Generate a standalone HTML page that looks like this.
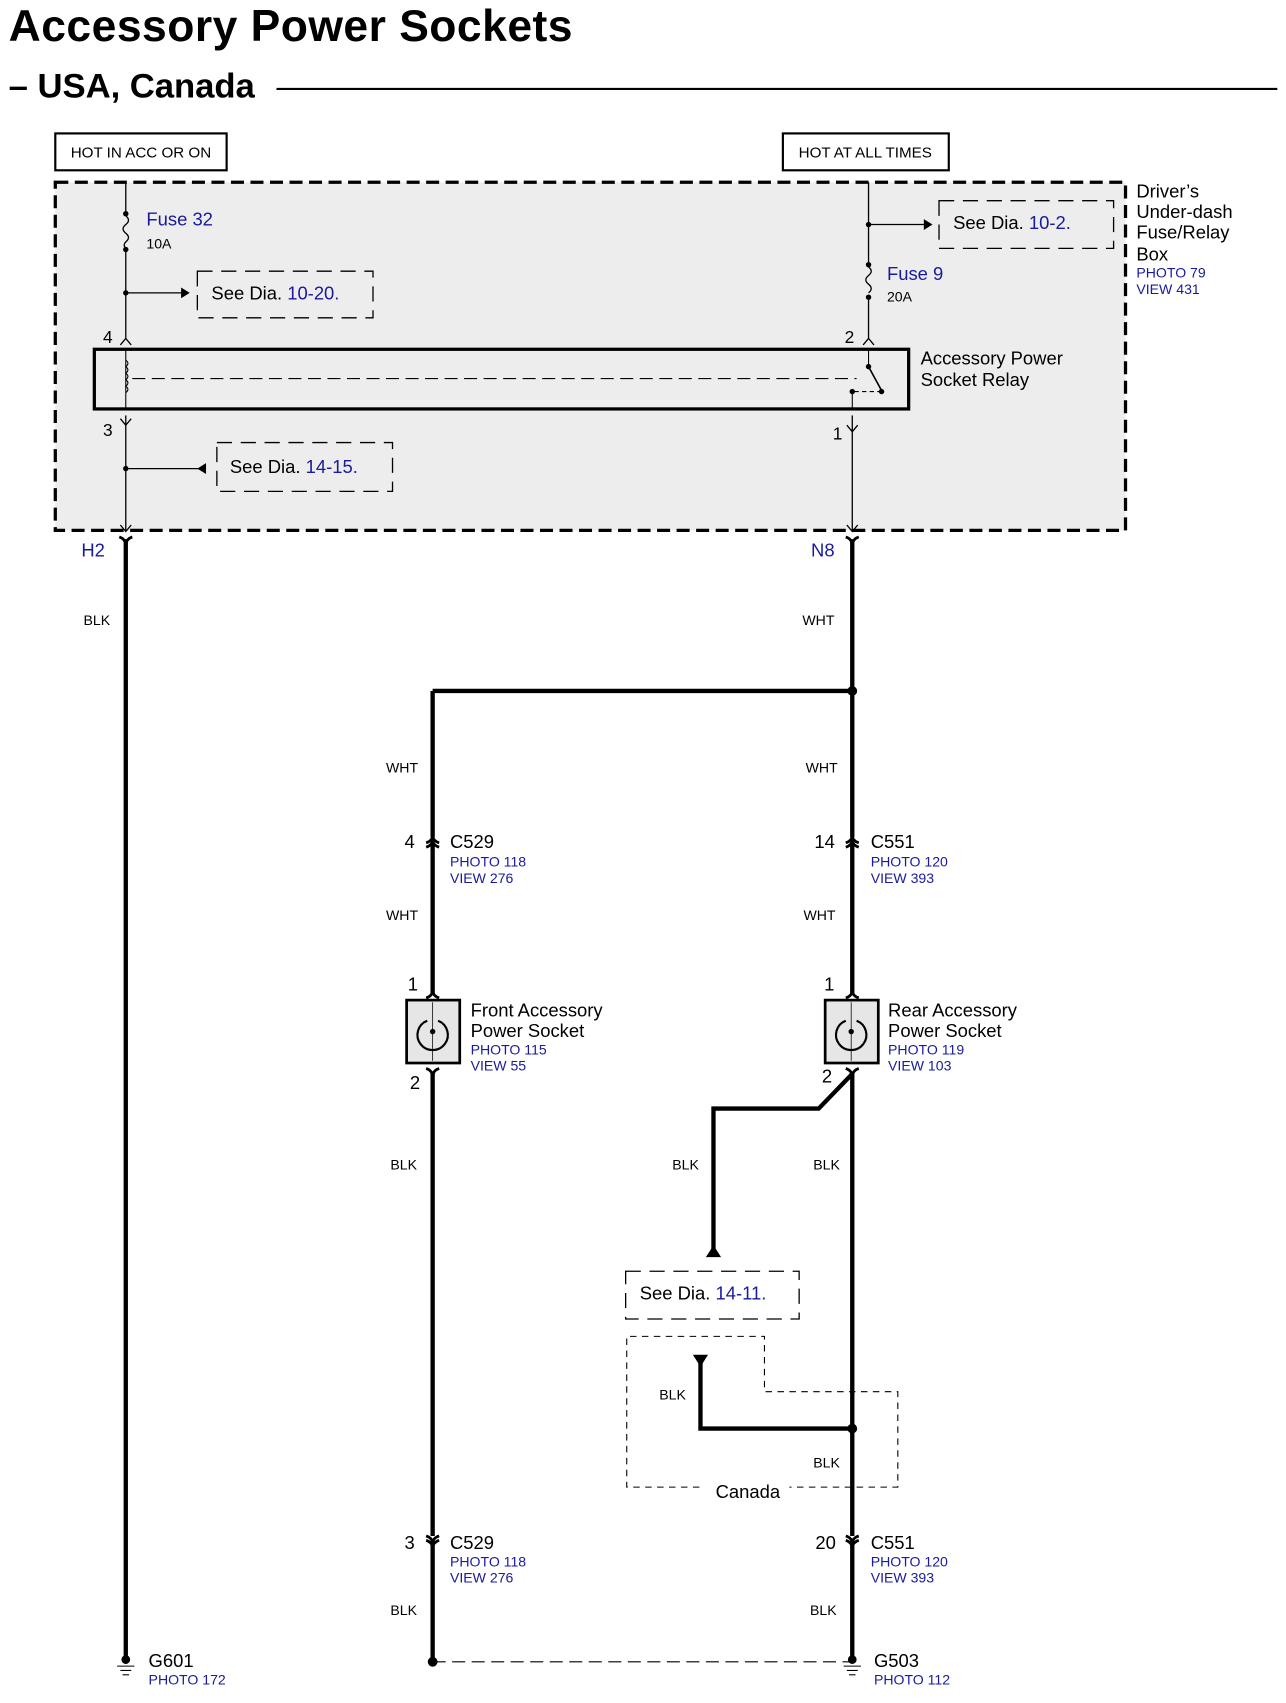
<!DOCTYPE html>
<html><head><meta charset="utf-8"><style>
html,body{margin:0;padding:0;background:#fff;}
svg{display:block;}
text{font-family:"Liberation Sans",sans-serif;}
.b{fill:#1a1aa0;}
</style></head><body>
<svg width="1286" height="1703" viewBox="0 0 1186 1570" preserveAspectRatio="none" xmlns="http://www.w3.org/2000/svg">
<text x="8" y="38" font-size="41" font-weight="bold" textLength="520">Accessory Power Sockets</text>
<text x="8" y="90" font-size="32" font-weight="bold" textLength="227">– USA, Canada</text>
<line x1="255" y1="82" x2="1178" y2="82" stroke="#000" stroke-width="2"/>

<rect x="51" y="123" width="158" height="34" fill="#fff" stroke="#000" stroke-width="2"/>
<text x="130" y="145" font-size="14" text-anchor="middle">HOT IN ACC OR ON</text>
<rect x="722" y="123" width="153" height="34" fill="#fff" stroke="#000" stroke-width="2"/>
<text x="798" y="145" font-size="14" text-anchor="middle">HOT AT ALL TIMES</text>

<rect x="51" y="168" width="987" height="321" fill="#ededed" stroke="#000" stroke-width="3" stroke-dasharray="12,6"/>
<g font-size="17">
<text x="1048" y="182">Driver’s</text><text x="1048" y="201">Under-dash</text><text x="1048" y="220">Fuse/Relay</text><text x="1048" y="240">Box</text>
</g>
<text x="1048" y="256" font-size="13" class="b">PHOTO 79</text>
<text x="1048" y="271" font-size="13" class="b">VIEW 431</text>

<g stroke="#000" stroke-width="1.2" fill="none">
<line x1="116" y1="168" x2="116" y2="197"/>
<path d="M116 199 q5 4 0 8 q-5 4 0 8 q5 4 0 8 q-3 3 0 6"/>
<line x1="116" y1="230" x2="116" y2="312"/>
<line x1="116" y1="383" x2="116" y2="489"/>
<line x1="116" y1="270" x2="168" y2="270"/>
<line x1="116" y1="432" x2="185" y2="432"/>
<path d="M111 318 l5 -6 l5 6"/><path d="M111 386 l5 6 l5 -6"/>
<line x1="801" y1="168" x2="801" y2="244"/>
<path d="M801 246 q5 4 0 8 q-5 4 0 8 q5 4 0 8"/>
<line x1="801" y1="274" x2="801" y2="312"/>
<line x1="801" y1="207" x2="852" y2="207"/>
<path d="M796 318 l5 -6 l5 6"/>
<line x1="786" y1="383" x2="786" y2="489"/>
<path d="M781 392 l5 6 l5 -6"/>
<path d="M781 484 l5 6 l5 -6"/><path d="M111 484 l5 6 l5 -6"/>
</g>
<g fill="#000">
<circle cx="116" cy="197" r="2.5"/><circle cx="116" cy="230" r="2.5"/><circle cx="116" cy="270" r="2.5"/><circle cx="116" cy="432" r="2.5"/>
<circle cx="801" cy="244" r="2.5"/><circle cx="801" cy="274" r="2.5"/><circle cx="801" cy="207" r="2.5"/>
<path d="M175 270 l-8 -5 v10z"/><path d="M860 207 l-8 -5 v10z"/><path d="M182 432 l8 -5 v10z"/>
</g>
<text x="135" y="208" font-size="17" class="b">Fuse 32</text>
<text x="135" y="229" font-size="13">10A</text>
<text x="818" y="258" font-size="17" class="b">Fuse 9</text>
<text x="818" y="278" font-size="13">20A</text>
<g fill="none" stroke="#000" stroke-width="1.2" stroke-dasharray="14,8">
<rect x="182" y="250" width="162" height="43"/><rect x="866" y="185" width="161" height="44"/><rect x="200" y="408" width="162" height="45"/>
<rect x="577" y="1172" width="160" height="44"/>
</g>
<g font-size="17">
<text x="195" y="276">See  Dia. <tspan class="b">10-20.</tspan></text>
<text x="879" y="211">See  Dia. <tspan class="b">10-2.</tspan></text>
<text x="212" y="436">See  Dia. <tspan class="b">14-15.</tspan></text>
<text x="590" y="1198">See  Dia. <tspan class="b">14-11.</tspan></text>
<text x="95" y="316" font-size="16">4</text><text x="95" y="402" font-size="16">3</text>
<text x="779" y="316" font-size="16">2</text><text x="768" y="405" font-size="16">1</text>
<text x="849" y="336">Accessory Power</text><text x="849" y="356">Socket Relay</text>
</g>
<rect x="87" y="322" width="751" height="55" fill="none" stroke="#000" stroke-width="3"/>
<g stroke="#000" stroke-width="1" fill="none">
<line x1="116" y1="322" x2="116" y2="377"/>
<path d="M116 332 q4 3 0 6 q4 3 0 6 q4 3 0 6 q4 3 0 6 q4 3 0 6"/>
<line x1="122" y1="349" x2="790" y2="349" stroke-dasharray="12,6"/>
<line x1="801" y1="322" x2="801" y2="338"/>
<line x1="801" y1="338" x2="813" y2="360" stroke-width="1.5"/>
<line x1="786" y1="360" x2="786" y2="377"/>
<line x1="788" y1="361" x2="812" y2="361" stroke-dasharray="4,3"/>
</g>
<circle cx="801" cy="338" r="2.5"/><circle cx="813" cy="361" r="2.5"/><circle cx="786" cy="361" r="2.5"/>

<text x="75" y="513" font-size="17" class="b">H2</text>
<text x="748" y="513" font-size="17" class="b">N8</text>
<g stroke="#000" stroke-width="4" fill="none">
<line x1="116" y1="497" x2="116" y2="1530"/>
<line x1="786" y1="497" x2="786" y2="772"/>
<line x1="786" y1="778" x2="786" y2="916"/>
<line x1="786" y1="988" x2="786" y2="1416"/>
<line x1="786" y1="1423" x2="786" y2="1530"/>
<line x1="399" y1="637" x2="786" y2="637"/>
<line x1="399" y1="637" x2="399" y2="772"/>
<line x1="399" y1="778" x2="399" y2="916"/>
<line x1="399" y1="988" x2="399" y2="1416"/>
<line x1="399" y1="1423" x2="399" y2="1532"/>
<path d="M786 990 L755 1022 H658 V1155"/>
<path d="M646 1252 V1317 H786"/>
</g>
<g stroke="#000" stroke-width="2.5" fill="none">
<path d="M110 495 q6 2 6 8 q0 -6 6 -8"/><path d="M780 495 q6 2 6 8 q0 -6 6 -8"/>
<path d="M393 777 q6 -2 6 -7 q0 5 6 7"/><path d="M393 781 q6 -2 6 -7 q0 5 6 7"/>
<path d="M780 777 q6 -2 6 -7 q0 5 6 7"/><path d="M780 781 q6 -2 6 -7 q0 5 6 7"/>
<path d="M393 920 q6 -2 6 -7 q0 5 6 7"/><path d="M780 920 q6 -2 6 -7 q0 5 6 7"/>
<path d="M393 985 q6 2 6 8 q0 -6 6 -8"/><path d="M780 985 q6 2 6 8 q0 -6 6 -8"/>
<path d="M393 1416 q6 2 6 7 q0 -5 6 -7"/><path d="M393 1420 q6 2 6 7 q0 -5 6 -7"/>
<path d="M780 1416 q6 2 6 7 q0 -5 6 -7"/><path d="M780 1420 q6 2 6 7 q0 -5 6 -7"/>
</g>
<g fill="#000">
<circle cx="786" cy="637" r="4.5"/><circle cx="786" cy="1317" r="4.5"/><circle cx="399" cy="1532" r="4.5"/>
<path d="M658 1148 l-7 11 h14z"/><path d="M646 1260 l-7 -11 h14z"/>
</g>
<g font-size="13">
<text x="77" y="576">BLK</text><text x="740" y="576">WHT</text>
<text x="356" y="712">WHT</text><text x="743" y="712">WHT</text>
<text x="356" y="848">WHT</text><text x="741" y="848">WHT</text>
<text x="360" y="1078">BLK</text><text x="620" y="1078">BLK</text><text x="750" y="1078">BLK</text>
<text x="608" y="1290">BLK</text><text x="750" y="1353">BLK</text>
<text x="360" y="1489">BLK</text><text x="747" y="1489">BLK</text>
</g>
<g font-size="17">
<text x="373" y="782">4</text><text x="415" y="782">C529</text>
<text x="751" y="782">14</text><text x="803" y="782">C551</text>
<text x="376" y="913">1</text><text x="760" y="913">1</text>
<text x="378" y="1004">2</text><text x="758" y="998">2</text>
<text x="434" y="937">Front Accessory</text><text x="434" y="956">Power Socket</text>
<text x="819" y="937">Rear Accessory</text><text x="819" y="956">Power Socket</text>
<text x="373" y="1428">3</text><text x="415" y="1428">C529</text>
<text x="752" y="1428">20</text><text x="803" y="1428">C551</text>
<text x="660" y="1381">Canada</text>
<text x="137" y="1537">G601</text><text x="806" y="1537">G503</text>
</g>
<g font-size="13" class="b">
<text x="415" y="799">PHOTO 118</text><text x="415" y="814">VIEW 276</text>
<text x="803" y="799">PHOTO 120</text><text x="803" y="814">VIEW 393</text>
<text x="434" y="972">PHOTO 115</text><text x="434" y="987">VIEW 55</text>
<text x="819" y="972">PHOTO 119</text><text x="819" y="987">VIEW 103</text>
<text x="415" y="1444">PHOTO 118</text><text x="415" y="1459">VIEW 276</text>
<text x="803" y="1444">PHOTO 120</text><text x="803" y="1459">VIEW 393</text>
<text x="137" y="1553">PHOTO 172</text><text x="806" y="1553">PHOTO 112</text>
</g>
<g stroke="#000" fill="#e6e6e6" stroke-width="2.5">
<rect x="375" y="922" width="49" height="58"/><rect x="761" y="922" width="49" height="58"/>
</g>
<g stroke="#000" fill="none" stroke-width="2">
<path d="M394 941 a14 14 0 1 0 10 0"/><path d="M780 941 a14 14 0 1 0 10 0"/>
</g>
<g stroke="#000" stroke-width="0.7"><line x1="399" y1="924" x2="399" y2="978"/><line x1="785" y1="924" x2="785" y2="978"/></g>
<circle cx="399" cy="951" r="2.5"/><circle cx="785" cy="951" r="2.5"/>
<g fill="none" stroke="#000" stroke-width="1" stroke-dasharray="6,5">
<path d="M645 1371 H578 V1232 H705 V1283 H828 V1371 H728"/>
</g>
<line x1="399" y1="1532" x2="786" y2="1532" stroke="#000" stroke-width="1" stroke-dasharray="12,6"/>
<g fill="#000"><circle cx="116" cy="1530" r="4"/><circle cx="786" cy="1530" r="4"/></g>
<g stroke="#000" stroke-width="1">
<line x1="108" y1="1536" x2="124" y2="1536"/><line x1="111" y1="1540" x2="121" y2="1540"/><line x1="113" y1="1544" x2="119" y2="1544"/>
<line x1="778" y1="1536" x2="794" y2="1536"/><line x1="781" y1="1540" x2="791" y2="1540"/><line x1="783" y1="1544" x2="789" y2="1544"/>
</g>
</svg>
</body></html>
